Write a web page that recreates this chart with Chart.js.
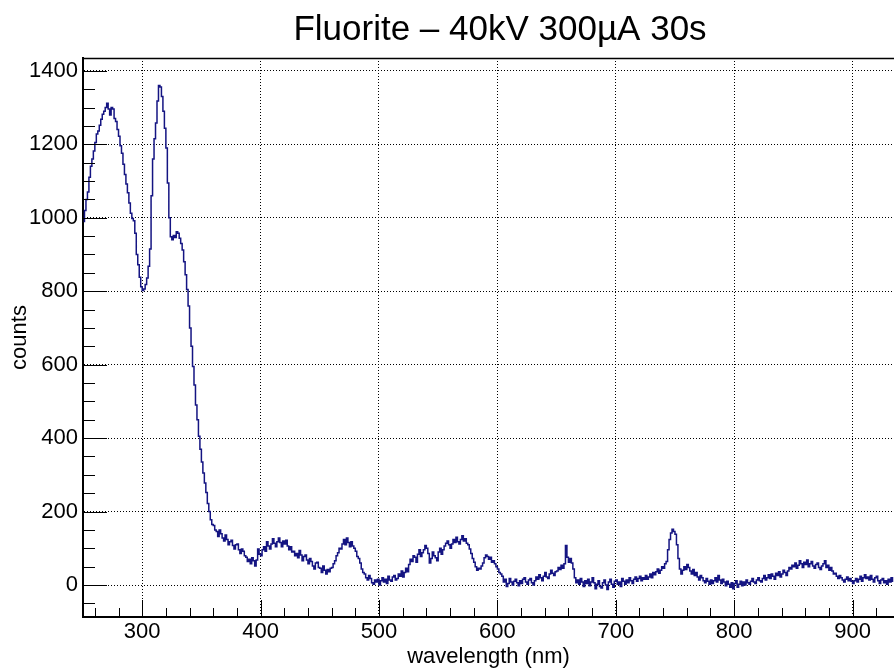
<!DOCTYPE html>
<html>
<head>
<meta charset="utf-8">
<title>Fluorite spectrum</title>
<script src="https://cdn.jsdelivr.net/npm/chart.js@4.4.1/dist/chart.umd.min.js"></script>
<style>
  html, body { margin: 0; padding: 0; background: #fff; overflow: hidden; }
  #wrap { position: relative; width: 894px; height: 670px; }
</style>
</head>
<body>
<div id="wrap"><canvas id="specChart"></canvas></div>
<script>
// Histogram binning (nm)
const binStart = 250;
const binWidth = 1.25;

// Counts per bin, 250 -> 935 nm (one row = 25 nm)
const counts = [
  990, 1020, 1050, 1070, 1110, 1140, 1160, 1182, 1205, 1228, 1236, 1252, 1268, 1282, 1290, 1300, 1312, 1296, 1280, 1300,
  1296, 1270, 1262, 1240, 1222, 1196, 1176, 1146, 1118, 1092, 1068, 1040, 1012, 998, 992, 958, 900, 872, 838, 812,
  802, 806, 818, 836, 868, 915, 1060, 1160, 1215, 1258, 1318, 1360, 1356, 1330, 1290, 1244, 1190, 1095, 1000, 948,
  940, 952, 946, 962, 958, 944, 930, 912, 880, 845, 805, 760, 700, 650, 595, 545, 490, 450, 405, 370,
  335, 305, 278, 252, 222, 200, 178, 165, 162, 150, 146, 132, 150, 140, 128, 120, 136, 124, 110, 118,
  122, 108, 98, 110, 112, 96, 86, 98, 92, 80, 76, 64, 70, 58, 74, 66, 52, 68, 98, 84,
  80, 96, 104, 92, 118, 106, 98, 112, 126, 114, 104, 118, 128, 116, 104, 120, 112, 122, 106, 96,
  104, 90, 92, 80, 86, 74, 94, 82, 66, 78, 82, 68, 58, 72, 64, 52, 44, 60, 62, 48,
  46, 34, 52, 40, 30, 42, 36, 46, 48, 58, 66, 80, 88, 100, 98, 112, 124, 110, 128, 116,
  104, 118, 106, 100, 92, 78, 72, 60, 44, 34, 30, 20, 14, 26, 18, 6, 2, 14, 8, 16,
  0, 12, 20, 8, 16, 4, 24, 14, 10, 22, 26, 14, 18, 30, 24, 38, 22, 34, 46, 36,
  56, 70, 64, 80, 76, 62, 84, 96, 78, 88, 96, 108, 100, 86, 60, 72, 90, 80, 74, 66,
  90, 100, 84, 96, 106, 114, 120, 110, 100, 112, 124, 116, 130, 118, 112, 124, 134, 120, 126, 114,
  110, 98, 86, 72, 62, 50, 40, 46, 44, 52, 60, 74, 82, 78, 70, 76, 62, 66, 58, 50,
  44, 34, 30, 24, 8, 16, -4, 4, 18, 8, 0, 10, 16, 6, -2, 12, 4, 16, 20, 8,
  2, 14, 18, 6, 0, 12, 22, 16, 28, 20, 12, 24, 34, 22, 18, 30, 40, 32, 26, 36,
  38, 48, 42, 54, 46, 58, 108, 76, 62, 72, 60, 44, 20, 6, 14, 2, 18, 8, -4, 12,
  4, 16, -2, 8, 20, 6, -10, 2, 12, -4, -8, 6, 14, 0, -12, 8, 16, 2, -6, 10,
  14, 2, 8, -4, 18, 10, 2, 14, 6, 20, 12, 4, 16, 22, 10, 18, 24, 12, 20, 16,
  26, 16, 22, 30, 20, 34, 28, 36, 44, 32, 40, 50, 46, 58, 64, 96, 124, 142, 152, 146,
  138, 110, 72, 44, 30, 40, 50, 42, 56, 48, 38, 30, 42, 26, 34, 22, 14, 26, 20, 12,
  6, 18, 10, 2, 14, 4, 12, 20, 8, 26, 14, 4, 16, 8, -2, 10, 2, -6, 6, -10,
  4, 12, -6, 2, 10, -2, 8, 0, 14, 6, 2, 10, 18, 8, 4, 14, 20, 12, 8, 18,
  26, 14, 20, 28, 18, 30, 24, 16, 32, 26, 36, 22, 30, 40, 34, 26, 38, 48, 44, 54,
  50, 60, 46, 54, 66, 58, 48, 62, 56, 68, 50, 58, 64, 52, 46, 56, 60, 48, 42, 52,
  58, 66, 48, 54, 40, 48, 38, 30, 32, 24, 18, 26, 20, 14, 8, 16, 22, 12, 18, 10,
  4, 12, 18, 8, 16, 24, 10, 20, 28, 18, 22, 14, 26, 16, 8, 20, 24, 12, 4, 14,
  18, 6, 12, 2, 16, 8, 20, 10
];

const xTicks = [300, 400, 500, 600, 700, 800, 900];
const yTicks = [0, 200, 400, 600, 800, 1000, 1200, 1400];
const xMinorStep = 20;
const yMinorStep = 50;

const titleText = 'Fluorite \u2013 40kV 300\u00b5A 30s';
const FONT = '"Liberation Sans", Arial, Helvetica, sans-serif';

// bin centres for the stepped line
const points = counts.map((c, i) => ({ x: binStart + binWidth * (i + 0.5), y: c }));

// ROOT-like frame: top edge, inward ticks and the title
const rootFrame = {
  id: 'rootFrame',
  afterDraw(chart) {
    const { ctx, chartArea: a, scales: { x, y } } = chart;
    ctx.save();
    ctx.strokeStyle = '#000';
    ctx.lineWidth = 1;
    ctx.beginPath();
    for (let v = Math.ceil(x.min / xMinorStep) * xMinorStep; v <= x.max; v += xMinorStep) {
      const px = Math.round(x.getPixelForValue(v)) + 0.5;
      const len = xTicks.includes(v) ? 17 : 9;
      ctx.moveTo(px, a.bottom);
      ctx.lineTo(px, a.bottom - len);
    }
    for (let v = Math.ceil(y.min / yMinorStep) * yMinorStep; v <= y.max; v += yMinorStep) {
      const py = Math.round(y.getPixelForValue(v)) + 0.5;
      const len = yTicks.includes(v) ? 24 : 12;
      ctx.moveTo(a.left, py);
      ctx.lineTo(a.left + len, py);
    }
    ctx.stroke();

    ctx.lineWidth = 1.5;
    ctx.beginPath();
    ctx.moveTo(a.left, a.top + 0.5);
    ctx.lineTo(a.right, a.top + 0.5);
    ctx.stroke();

    ctx.fillStyle = '#000';
    ctx.font = '35px ' + FONT;
    ctx.textAlign = 'center';
    ctx.textBaseline = 'alphabetic';
    ctx.fillText(titleText, 500, 40);
    ctx.restore();
  }
};

const ctx = document.getElementById('specChart').getContext('2d');
new Chart(ctx, {
  type: 'line',
  data: {
    datasets: [{
      label: 'counts',
      data: points,
      borderColor: 'rgb(20, 20, 130)',
      borderWidth: 1.5,
      stepped: 'middle',
      pointRadius: 0,
      fill: false
    }]
  },
  options: {
    responsive: true,
    maintainAspectRatio: false,
    animation: false,
    layout: { padding: { top: 58, left: 0, right: 0, bottom: 0 } },
    plugins: {
      legend: { display: false },
      tooltip: { enabled: false },
      title: { display: false }
    },
    scales: {
      x: {
        type: 'linear',
        min: 250,
        max: 935,
        afterBuildTicks: (s) => { s.ticks = xTicks.map(v => ({ value: v })); },
        afterFit: (s) => { s.height = 53; },
        grid: { color: '#000', lineWidth: 1, drawTicks: false },
        border: { color: '#000', width: 2, dash: [1, 2] },
        ticks: { color: '#000', padding: 2, font: { family: FONT, size: 22 }, callback: (v) => String(v) },
        title: {
          display: true,
          text: 'wavelength (nm)',
          color: '#000',
          font: { family: FONT, size: 22 },
          padding: { top: 0, bottom: 0 }
        }
      },
      y: {
        min: -87,
        max: 1435,
        afterBuildTicks: (s) => { s.ticks = yTicks.map(v => ({ value: v })); },
        afterFit: (s) => { s.width = 83; },
        grid: { color: '#000', lineWidth: 1, drawTicks: false },
        border: { color: '#000', width: 2, dash: [1, 2] },
        ticks: { color: '#000', padding: 5, font: { family: FONT, size: 22 }, callback: (v) => String(v) },
        title: {
          display: true,
          text: 'counts',
          color: '#000',
          font: { family: FONT, size: 22 },
          padding: { top: 7, bottom: 0 }
        }
      }
    }
  },
  plugins: [rootFrame]
});
</script>
</body>
</html>
